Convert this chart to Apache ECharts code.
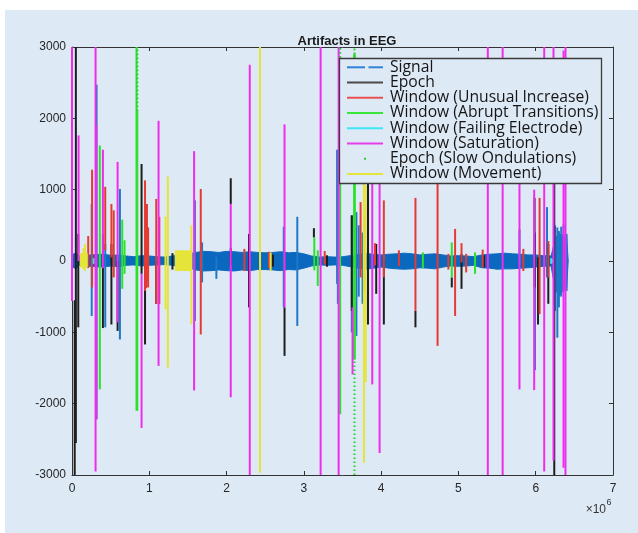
<!DOCTYPE html>
<html>
<head>
<meta charset="utf-8">
<title>Artifacts in EEG</title>
<script src="https://cdn.jsdelivr.net/npm/echarts@6/dist/echarts.min.js"></script>
<style>
  html, body { margin: 0; padding: 0; background: #fff; }
  #wrap { position: relative; width: 638px; height: 533px; }
  #panel { position: absolute; left: 5px; top: 10px; right: 0; bottom: 0; background: #dee9f6; }
  #main { position: absolute; left: 0; top: 0; width: 638px; height: 533px; }
</style>
</head>
<body>
<div id="wrap"><div id="panel"></div><div id="main"></div></div>
<script>
// x values are sample indices in units of 10^6
var xTicks = [0, 1, 2, 3, 4, 5, 6, 7];
var yTicks = [-3000, -2000, -1000, 0, 1000, 2000, 3000];

// envelope of the dense EEG signal (upper / lower)
var bandX  = [0, 0.05, 0.1, 0.2, 0.3, 0.4, 0.5, 0.6, 0.7, 0.8, 0.9, 1.0, 1.1, 1.2, 1.3, 1.4, 1.5, 1.6, 1.7, 1.8, 1.9, 2.0, 2.1, 2.2, 2.3, 2.4, 2.5, 2.6, 2.7, 2.8, 2.9, 3.0, 3.1, 3.2, 3.3, 3.4, 3.5, 3.6, 3.7, 3.8, 3.9, 4.0, 4.1, 4.2, 4.3, 4.4, 4.5, 4.6, 4.7, 4.8, 4.9, 5.0, 5.1, 5.2, 5.3, 5.4, 5.5, 5.6, 5.7, 5.8, 5.9, 6.0, 6.1, 6.2, 6.22, 6.25, 6.3, 6.35, 6.4, 6.42];
var bandUp = [90, 110, 70, 80, 90, 95, 80, 85, 70, 60, 75, 70, 60, 55, 70, 85, 100, 120, 135, 130, 120, 135, 130, 120, 130, 120, 115, 120, 130, 115, 120, 100, 70, 55, 60, 55, 60, 75, 90, 105, 95, 85, 95, 100, 110, 100, 85, 95, 100, 85, 70, 75, 70, 60, 85, 95, 100, 110, 100, 95, 85, 85, 75, 70, 160, 320, 380, 360, 340, 0];
var bandLo = [-80, -110, -60, -70, -80, -85, -70, -80, -60, -55, -70, -60, -55, -50, -60, -80, -95, -125, -140, -135, -125, -135, -140, -125, -135, -120, -120, -125, -135, -120, -125, -100, -70, -55, -60, -55, -60, -80, -100, -115, -100, -85, -100, -110, -115, -110, -95, -100, -110, -85, -70, -75, -70, -60, -95, -100, -115, -110, -110, -100, -95, -85, -75, -70, -200, -380, -500, -420, -380, 0];

// spikes: [x, low, high]
var signalSpikes = [
  [0.255, -770, 800], [0.318, -2220, 2470], [0.43, -930, 240], [0.62, -1100, 1010],
  [1.59, -840, 850], [1.683, -300, 260], [1.868, -250, 60], [2.74, -650, 480],
  [2.915, -910, 620], [3.43, -320, 1560], [3.44, -600, 1080], [3.62, -1000, 640],
  [3.68, -1050, 685], [3.71, -500, 500], [3.76, -600, 400], [5.79, -50, 440],
  [5.99, -1530, 400], [6.146, -230, 755], [6.25, -700, 500], [6.28, -1075, 470],
  [6.3, -650, 420], [6.33, -500, 480], [6.36, -420, 510], [6.4, -420, 380]
];
var epochSpikes = [
  [0.035, -3000, -550], [0.05, -2550, 3000], [0.081, -930, 380], [0.40, -940, 380],
  [0.51, -890, 240], [0.59, -980, 0], [0.9, -180, 1360], [0.945, -1170, 50],
  [1.09, -600, 0], [1.3, -120, 110], [2.054, 800, 1160], [2.054, -60, 180],
  [2.29, -650, 380], [2.6, -80, 90], [2.75, -1330, -650], [3.13, 330, 460],
  [3.3, -80, 80], [3.62, -700, 640], [3.83, -890, 1500], [3.936, -460, 240],
  [4.035, -890, 0], [4.444, -930, -700], [4.914, -370, -230], [5.04, -390, 100],
  [5.33, -90, 80], [5.985, -370, 885], [6.03, -890, 50], [6.163, -600, 240],
  [6.24, -3000, 1500]
];
var unusualSpikes = [
  [0.21, -100, 350], [0.26, -370, 1280], [0.43, 150, 1040], [0.51, 50, 800],
  [0.54, -230, 710], [0.945, -420, 1130], [0.96, -380, 300], [0.97, -280, 800],
  [0.985, -370, 470], [1.09, -600, 870], [1.13, -600, 620], [1.666, -1030, 1010],
  [2.23, -140, 170], [2.55, -100, 130], [3.27, -50, 140], [3.734, -230, 825],
  [3.79, -420, 610], [3.92, -60, 250], [4.035, -230, 850], [4.23, -70, 150],
  [4.444, -700, 885], [4.73, -1190, 1500], [4.87, -120, 100], [4.957, -770, 450],
  [5.04, -20, 250], [5.1, -160, 100], [5.314, -90, 160], [5.84, -140, 170],
  [6.05, -745, 885], [6.163, -230, 280]
];
var abruptSpikes = [
  [0.36, -1800, 1620], [0.65, -390, 580], [0.68, -180, 290], [0.835, -2100, 3000],
  [0.845, -2100, 2100], [3.135, -130, 330], [3.18, -350, 150], [3.47, -2150, 2850],
  [3.65, -1380, 2900], [3.66, -1380, 2900], [4.54, -100, 120], [4.914, -230, 260],
  [5.215, -180, 120]
];
var failingSpikes = [[0.28, -40, 40], [6.2, -40, 40], [6.22, -30, 30]];
var saturationSpikes = [
  [0.0, -560, 3000], [0.085, 0, 1760], [0.305, -2950, 3000], [0.315, -2220, 1900],
  [0.40, -100, 1560], [0.59, -860, 1390], [0.9, -2340, -180], [1.12, -1470, 1965],
  [1.58, -1815, 1540], [2.054, -1910, 800], [2.30, -3000, 2750], [2.75, -650, 1915],
  [3.217, -3000, 3000], [3.45, -3000, 3000], [3.63, -1590, -650], [3.885, -1730, 1500],
  [3.98, -2690, 1500], [5.38, -3000, 3000], [5.572, -3000, 3000], [5.79, -1800, 1500],
  [5.98, -1810, 1000], [6.11, -2950, 3000], [6.23, -2800, 3000], [6.36, -2900, 2950],
  [6.385, -3000, 3000]
];
var slowSpikes = [[0.845, 2100, 3000], [3.47, 2850, 3000], [3.655, -3000, -1380], [3.655, 2900, 3000]];
var movementSpikes = [
  [0.12, -90, 100], [0.15, -120, 180], [0.17, -140, 240], [0.19, -80, 100],
  [1.21, -675, 620], [1.24, -1496, 1186], [1.545, -890, 500], [2.433, -2970, 3000],
  [2.57, -140, 120], [3.777, -2830, 1500], [3.80, -1700, 1060]
];
// movement windows: [x0, x1, low, high]
var movementWindows = [[0.10, 0.20, -90, 110], [1.33, 1.55, -140, 150]];

var legendNames = ['Signal', 'Epoch', 'Window (Unusual Increase)', 'Window (Abrupt Transitions)',
  'Window (Failing Electrode)', 'Window (Saturation)', 'Epoch (Slow Ondulations)', 'Window (Movement)'];
var legendColors = ['#2f83d6', '#4a4a4a', '#e85050', '#3be63b', '#3ee6f8', '#e63ee8', '#22d322', '#e4e43a'];
var legendKinds = ['dash', 'line', 'line', 'line', 'line', 'line', 'dot', 'line'];

var chart = echarts.init(document.getElementById('main'));

function segItem(color, width, dash) {
  return function (params, api) {
    var a = api.coord([api.value(0), api.value(1)]);
    var b = api.coord([api.value(0), api.value(2)]);
    return {
      type: 'line',
      shape: { x1: a[0], y1: a[1], x2: b[0], y2: b[1] },
      style: { stroke: color, lineWidth: width, lineDash: dash || null }
    };
  };
}
function rectItem(color) {
  return function (params, api) {
    var a = api.coord([api.value(0), api.value(3)]);
    var b = api.coord([api.value(1), api.value(2)]);
    return {
      type: 'rect',
      shape: { x: a[0], y: a[1], width: b[0] - a[0], height: b[1] - a[1] },
      style: { fill: color }
    };
  };
}
function segSeries(name, data, color, width, dash) {
  return {
    type: 'custom', name: name, data: data, renderItem: segItem(color, width, dash),
    encode: { x: 0, y: [1, 2] }, silent: true, animation: false, z: 5
  };
}

var blue = '#0a68bf';
var bandUpData = bandX.map(function (x, i) { return [x, bandUp[i]]; });
var bandLoData = bandX.map(function (x, i) { return [x, bandLo[i]]; });

var legendEls = [{
  type: 'rect', z: 100,
  shape: { x: 339.5, y: 58.5, width: 262, height: 125 },
  style: { fill: '#dee9f6', stroke: '#3a3a3a', lineWidth: 1.3 }
}];
legendNames.forEach(function (name, i) {
  var y = 67.3 + 15.24 * i;
  var c = legendColors[i];
  if (legendKinds[i] === 'dash') {
    legendEls.push({ type: 'line', z: 101, shape: { x1: 347, y1: y, x2: 365, y2: y }, style: { stroke: c, lineWidth: 2 } });
    legendEls.push({ type: 'line', z: 101, shape: { x1: 368.5, y1: y, x2: 383, y2: y }, style: { stroke: c, lineWidth: 2 } });
  } else if (legendKinds[i] === 'dot') {
    legendEls.push({ type: 'rect', z: 101, shape: { x: 364, y: y - 1, width: 2, height: 2 }, style: { fill: c } });
  } else {
    legendEls.push({ type: 'line', z: 101, shape: { x1: 347, y1: y, x2: 383, y2: y }, style: { stroke: c, lineWidth: 2 } });
  }
  legendEls.push({
    type: 'text', z: 101,
    style: { text: name, x: 390, y: y, fill: '#151515', fontSize: 15.7, fontFamily: 'Open Sans',
      align: 'left', verticalAlign: 'middle' }
  });
});
legendEls.push({ type: 'text', z: 101, style: { text: '×10', x: 606, y: 510, fill: '#333', fontSize: 12,
  fontFamily: 'Liberation Sans, Arial', align: 'right', verticalAlign: 'middle' } });
legendEls.push({ type: 'text', z: 101, style: { text: '6', x: 606.5, y: 503, fill: '#333', fontSize: 9,
  fontFamily: 'Liberation Sans, Arial', align: 'left', verticalAlign: 'middle' } });

var axisColor = '#333';
function plainLabel(v) { return String(v); }
function xAx(pos, labels) {
  return {
    type: 'value', position: pos, min: xTicks[0], max: xTicks[xTicks.length - 1], interval: 1,
    axisLine: { onZero: false, lineStyle: { color: axisColor, width: 1 } },
    axisTick: { inside: true, length: 4, lineStyle: { color: axisColor } },
    axisLabel: { show: labels, color: '#262626', fontSize: 12, fontFamily: 'Liberation Sans, Arial', margin: 8,
      formatter: plainLabel },
    splitLine: { show: false }
  };
}
function yAx(pos, labels) {
  return {
    type: 'value', position: pos, min: yTicks[0], max: yTicks[yTicks.length - 1], interval: 1000,
    axisLine: { onZero: false, lineStyle: { color: axisColor, width: 1 } },
    axisTick: { inside: true, length: 4, lineStyle: { color: axisColor } },
    axisLabel: { show: labels, color: '#262626', fontSize: 12, fontFamily: 'Liberation Sans, Arial', margin: 6,
      formatter: plainLabel },
    splitLine: { show: false }
  };
}

chart.setOption({
  animation: false,
  title: {
    text: 'Artifacts in EEG', left: 342, top: 30, textAlign: 'center',
    textStyle: { fontSize: 13, fontWeight: 'bold', color: '#1a1a1a', fontFamily: 'Liberation Sans, Arial' }
  },
  grid: { left: 72, right: 25, top: 47, bottom: 58 },
  xAxis: [xAx('bottom', true), xAx('top', false)],
  yAxis: [yAx('left', true), yAx('right', false)],
  graphic: legendEls,
  series: [
    { type: 'line', name: 'Signal', data: bandUpData, symbol: 'none', silent: true, z: 1,
      lineStyle: { color: blue, width: 1 }, areaStyle: { color: blue, opacity: 1 } },
    { type: 'line', name: 'Signal', data: bandLoData, symbol: 'none', silent: true, z: 1,
      lineStyle: { color: blue, width: 1 }, areaStyle: { color: blue, opacity: 1 } },
    segSeries('Signal', signalSpikes, '#1f78c8', 2),
    segSeries('Epoch', epochSpikes, '#1e1e1e', 2),
    segSeries('Window (Unusual Increase)', unusualSpikes, '#e53a33', 2),
    segSeries('Window (Abrupt Transitions)', abruptSpikes, '#2be22b', 2),
    segSeries('Window (Failing Electrode)', failingSpikes, '#33e6f5', 2),
    segSeries('Window (Saturation)', saturationSpikes, '#ee2cee', 2),
    segSeries('Epoch (Slow Ondulations)', slowSpikes, '#22d322', 2, [1.6, 2.4]),
    segSeries('Window (Movement)', movementSpikes, '#e4e43a', 2),
    { type: 'custom', name: 'Window (Movement)', data: movementWindows, renderItem: rectItem('#e4e43a'),
      encode: { x: [0, 1], y: [2, 3] }, silent: true, z: 5 }
  ]
});
</script>
</body>
</html>
